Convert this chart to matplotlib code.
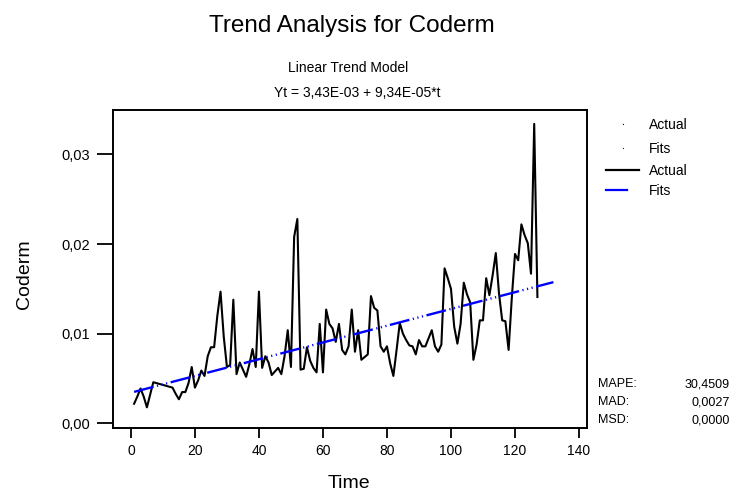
import numpy as np
import matplotlib.pyplot as plt
from matplotlib.lines import Line2D
from matplotlib.ticker import FuncFormatter

plt.rcParams['font.family'] = ['Liberation Sans', 'DejaVu Sans']

# Coderm series (t = 1..127)
actual = [0.0022, 0.0030, 0.0039, 0.0030, 0.0018, 0.0032, 0.0046, 0.0045, 0.0044, 0.0043,
          0.0042, 0.0041, 0.0040, 0.0033, 0.0027, 0.0035, 0.0035, 0.0045, 0.0063, 0.0040,
          0.0048, 0.0059, 0.0053, 0.0075, 0.0085, 0.0085, 0.0120, 0.0147, 0.0097, 0.0063,
          0.0065, 0.0138, 0.0055, 0.0068, 0.0060, 0.0052, 0.0066, 0.0083, 0.0063, 0.0147,
          0.0062, 0.0075, 0.0068, 0.0054, 0.0058, 0.0062, 0.0055, 0.0075, 0.0104, 0.0063,
          0.0208, 0.0228, 0.0060, 0.0061, 0.0085, 0.0070, 0.0062, 0.0057, 0.0111, 0.0057,
          0.0127, 0.0111, 0.0106, 0.0091, 0.0111, 0.0082, 0.0077, 0.0086, 0.0127, 0.0080,
          0.0104, 0.0071, 0.0074, 0.0077, 0.0142, 0.0129, 0.0126, 0.0086, 0.0080, 0.0086,
          0.0067, 0.0053, 0.0082, 0.0112, 0.0100, 0.0093, 0.0087, 0.0086, 0.0077, 0.0093,
          0.0086, 0.0086, 0.0095, 0.0104, 0.0086, 0.0080, 0.0088, 0.0173, 0.0162, 0.0150,
          0.0108, 0.0089, 0.0111, 0.0157, 0.0144, 0.0135, 0.0071, 0.0088, 0.0115, 0.0115,
          0.0162, 0.0143, 0.0165, 0.0190, 0.0145, 0.0115, 0.0114, 0.0082, 0.0140, 0.0189,
          0.0182, 0.0222, 0.0210, 0.0201, 0.0167, 0.0334, 0.0141]
t_actual = np.arange(1, len(actual) + 1)

# linear trend model Yt = 3.43E-03 + 9.34E-05*t
b0 = 3.43e-3
b1 = 9.34e-5
t_fit = np.arange(1, 133)
fits = b0 + b1 * t_fit

xticks = [0, 20, 40, 60, 80, 100, 120, 140]
yticks = [0.00, 0.01, 0.02, 0.03]
stats = [('MAPE:', '30,4509'), ('MAD:', '0,0027'), ('MSD:', '0,0000')]

W, H = 737, 493

def fx(px):
    return px / W

def fy(py):
    return 1 - py / H

fig = plt.figure(figsize=(7.37, 4.93), dpi=100)
ax = fig.add_axes([fx(113.3), fy(427.7), fx(586.7 - 113.3), (427.7 - 110) / H])

ax.plot(t_actual, actual, color='black', lw=1.5)
ax.plot(t_fit, fits, color='#0000ff', lw=1.7, dashes=(8.5, 1.5, 0.5, 1.5, 0.5, 1.5, 0.5, 1.5))

ax.set_xlim(-5.5, 142.4)
ax.set_ylim(-0.00047, 0.03495)
ax.set_xticks(xticks)
ax.set_yticks(yticks)
ax.yaxis.set_major_formatter(FuncFormatter(lambda v, p: f'{v:.2f}'.replace('.', ',')))
ax.tick_params(axis='x', direction='out', length=7, width=1.3, labelsize=10, pad=4.5)
ax.tick_params(axis='y', direction='out', length=11.5, width=1.3, labelsize=10.5, pad=5)
for s in ax.spines.values():
    s.set_linewidth(1.4)

fig.text(fx(349), fy(488), 'Time', ha='center', va='baseline', fontsize=14)
fig.text(fx(25), fy(274.5), 'Coderm', ha='center', va='center', rotation=90, fontsize=14)

fig.text(fx(352), fy(31.7), 'Trend Analysis for Coderm', ha='center', va='baseline', fontsize=17.5)
fig.text(fx(348), fy(71.7), 'Linear Trend Model', ha='center', va='baseline', fontsize=10)
fig.text(fx(357), fy(96.7), 'Yt = 3,43E-03 + 9,34E-05*t', ha='center', va='baseline', fontsize=10)

# legend, drawn by hand in figure coordinates
fig.add_artist(Line2D([fx(623)], [fy(124)], ls='none', marker='s', markersize=0.8,
                      markeredgewidth=0, color='black'))
fig.add_artist(Line2D([fx(623)], [fy(148)], ls='none', marker='s', markersize=0.8,
                      markeredgewidth=0, color='#0000ff'))
fig.add_artist(Line2D([fx(606), fx(639)], [fy(170), fy(170)], color='black', lw=1.6))
fig.add_artist(Line2D([fx(606), fx(627)], [fy(190), fy(190)], color='#0000ff', lw=1.6))
for lab, base in zip(['Actual', 'Fits', 'Actual', 'Fits'], [129.3, 153, 175, 195]):
    fig.text(fx(649), fy(base), lab, ha='left', va='baseline', fontsize=10)

for i, (k, v) in enumerate(stats):
    base = 387.3 + i * 18
    fig.text(fx(598), fy(base), k, fontsize=9, va='baseline', ha='left')
    fig.text(fx(730), fy(base), v, fontsize=9, va='baseline', ha='right')

fig.savefig('out.png', dpi=100)
